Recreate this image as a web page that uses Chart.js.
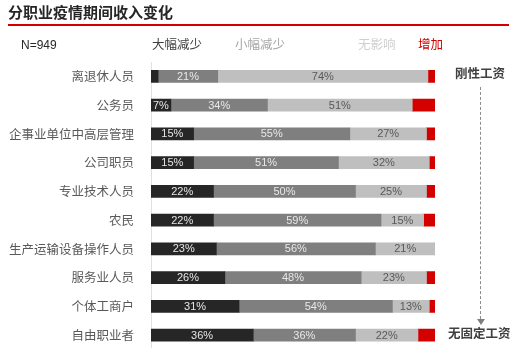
<!DOCTYPE html>
<html>
<head>
<meta charset="utf-8">
<script src="https://cdn.jsdelivr.net/npm/chart.js@4/dist/chart.umd.min.js"></script>
<style>
    body { margin: 0; background: #fff; }
    #wrap { position: relative; width: 519px; height: 348px; overflow: hidden; font-family: "Noto Sans CJK SC", sans-serif; }
    #wrap canvas { position: absolute; left: 0; top: 0; }
    .txt { position: absolute; white-space: nowrap; line-height: 1; }
    #title { left: 8px; top: 4px; font-size: 15px; font-weight: bold; color: #262626; }
    #rule { position: absolute; left: 8px; top: 24px; width: 501px; height: 1.5px; background: #d40000; }
    .leg { top: 38px; font-size: 12.5px; }
    .note { font-size: 12.5px; font-weight: bold; color: #404040; }
    #dash { position: absolute; left: 480px; top: 87px; height: 232px; border-left: 1px dashed #8c8c8c; }
    #arrow { position: absolute; left: 477px; top: 319px; width: 0; height: 0;
             border-left: 4px solid transparent; border-right: 4px solid transparent; border-top: 6px solid #7f7f7f; }
</style>
</head>
<body>
<div id="wrap">
    <canvas id="myChart" width="519" height="366"></canvas>
    <div id="title" class="txt">分职业疫情期间收入变化</div>
    <div id="rule"></div>
    <div class="txt leg" style="left:21px;color:#262626;font-family:'Liberation Sans',sans-serif;font-size:12px;top:39px;">N=949</div>
    <div class="txt leg" style="left:152px;color:#404040;">大幅减少</div>
    <div class="txt leg" style="left:235px;color:#a6a6a6;">小幅减少</div>
    <div class="txt leg" style="left:358px;color:#cfcfcf;">无影响</div>
    <div class="txt leg" style="left:418px;color:#d00000;">增加</div>
    <div class="txt note" style="left:455px;top:67px;">刚性工资</div>
    <div id="dash"></div>
    <div id="arrow"></div>
    <div class="txt note" style="left:448px;top:327px;">无固定工资</div>
</div>
<script>
var categories = ["离退休人员", "公务员", "企事业单位中高层管理", "公司职员", "专业技术人员",
    "农民", "生产运输设备操作人员", "服务业人员", "个体工商户", "自由职业者"];

var bigDrop = [2.5, 7, 15, 15, 22, 22, 23, 26, 31, 36];
var smallDrop = [21, 34, 55, 51, 50, 59, 56, 48, 54, 36];
var noEffect = [74, 51, 27, 32, 25, 15, 21, 23, 13, 22];
var increase = [2.5, 8, 3, 2, 3, 4, 0, 3, 2, 6];

var seriesNames = ["大幅减少", "小幅减少", "无影响", "增加"];
var seriesColors = ["#262626", "#7f7f7f", "#bfbfbf", "#d40000"];
var labelColors = ["#e6e6e6", "#e8e8e8", "#595959", null];

// write the % inside each segment
var segmentLabels = {
    id: 'segmentLabels',
    afterDatasetsDraw: function(chart) {
        var ctx = chart.ctx;
        ctx.save();
        ctx.font = "11px 'Liberation Sans', Arial, sans-serif";
        ctx.textAlign = 'center';
        ctx.textBaseline = 'middle';
        chart.data.datasets.forEach(function(ds, i) {
            if (!labelColors[i]) return;
            var meta = chart.getDatasetMeta(i);
            meta.data.forEach(function(bar, j) {
                var v = ds.data[j];
                if (v < 5) return;
                ctx.fillStyle = labelColors[i];
                ctx.fillText(Math.round(v) + '%', (bar.x + bar.base) / 2, bar.y + 0.5);
            });
        });
        ctx.restore();
    }
};

var datasets = [bigDrop, smallDrop, noEffect, increase].map(function(values, i) {
    return {
        label: seriesNames[i],
        data: values,
        backgroundColor: seriesColors[i],
        borderWidth: 0,
        barThickness: 12
    };
});

new Chart(document.getElementById("myChart").getContext("2d"), {
    type: 'bar',
    data: { labels: categories, datasets: datasets },
    options: {
        indexAxis: 'y',
        responsive: false,
        animation: false,
        layout: { padding: { top: 62, right: 84, left: 0, bottom: 0 } },
        plugins: {
            legend: { display: false },
            tooltip: { enabled: false }
        },
        scales: {
            x: { stacked: true, min: 0, max: 100, display: false },
            y: {
                stacked: true,
                grid: { display: false },
                border: { display: true, color: '#e0e0e0', width: 1 },
                ticks: {
                    color: '#595959',
                    padding: 9,
                    font: { family: "'Noto Sans CJK SC', sans-serif", size: 12.5 }
                },
                afterFit: function(scale) { scale.width = 151; }
            }
        }
    },
    plugins: [segmentLabels]
});
</script>
</body>
</html>
